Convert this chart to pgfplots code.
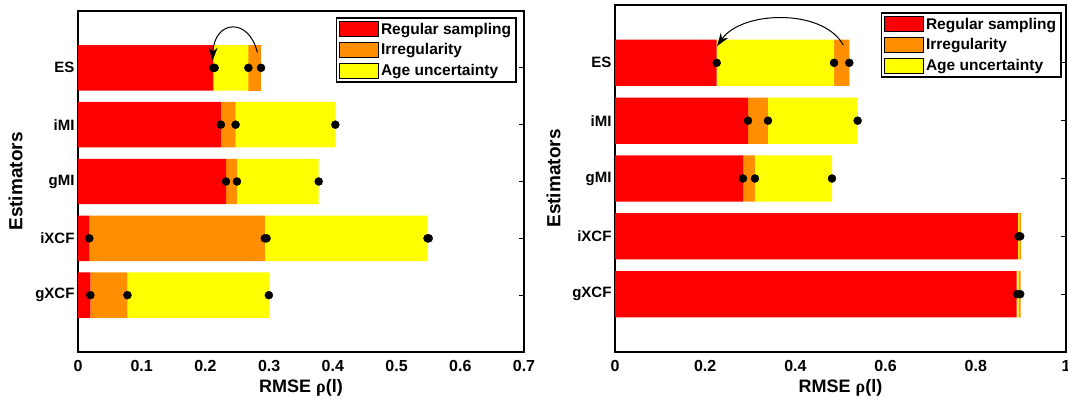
\documentclass[border=0pt]{standalone}
\usepackage{pgfplots}
\pgfplotsset{compat=1.18}
\usepackage{fontspec}
\setmainfont{Liberation Sans}
\usetikzlibrary{arrows.meta}
\definecolor{cRed}{RGB}{255,0,0}
\definecolor{cOrange}{RGB}{255,143,0}
\definecolor{cYellow}{RGB}{255,255,0}

\pgfplotsset{
  legpatch/.style={legend image code/.code={
      \path[draw=black, line width=0.6pt, fill=#1] (0pt,-7.5pt) rectangle (39pt,7.5pt);}},
  panel/.style={
    scale only axis,
    anchor=south west,
    xbar stacked,
    bar width=0.8,
    ymin=0, ymax=6,
    xmin=0,
    ytick={1,2,3,4,5},
    yticklabels={gXCF,iXCF,gMI,iMI,ES},
    y tick label style={font=\fontsize{15}{17}\selectfont\bfseries},
    x tick label style={font=\fontsize{16}{18}\selectfont\bfseries, yshift=-5pt},
    /pgf/number format/assume math mode=true,
    axis line style={line width=1.8pt},
    ytick pos=both,
    tick align=inside,
    major tick length=5pt,
    every tick/.style={black, line width=1pt},
    xtick pos=bottom,
    xtick style={draw=none},
    xlabel={\bfseries RMSE {\fontspec{Liberation Serif}ρ}(l)},
    ylabel={\bfseries Estimators},
    xlabel style={font=\fontsize{18}{20}\selectfont, yshift=-1pt},
    ylabel style={font=\fontsize{19}{21}\selectfont, yshift=6pt},
    legend cell align=left,
    legend style={at={(1,1)}, anchor=north east, draw=black, line width=1.8pt,
      font=\fontsize{15.5}{17}\selectfont\bfseries, inner sep=3pt, row sep=4pt,
      /tikz/every even column/.append style={column sep=4pt}},
  },
  overlay/.style={
    scale only axis, anchor=south west, hide axis,
    ymin=0, ymax=6, xmin=0, clip=false,
  },
}

\begin{document}
\begin{tikzpicture}
% ---------------- Left panel ----------------
\begin{axis}[panel, at={(78pt,47pt)}, width=446pt, height=341pt, xmax=0.7,
  xtick={0,0.1,0.2,0.3,0.4,0.5,0.6,0.7},
  xticklabels={0,0.1,0.2,0.3,0.4,0.5,0.6,0.7},
  legend style={xshift=-7pt, yshift=-6pt}]
\addplot[draw=none, fill=cRed, legpatch=cRed] coordinates {(0.2124,5) (0.2243,4) (0.2323,3) (0.0178,2) (0.0194,1)};
\addplot[draw=none, fill=cOrange, legpatch=cOrange] coordinates {(0,5) (0.0231,4) (0.0172,3) (0.2754,2) (0.0582,1)};
\addplot[draw=none, fill=cYellow, legpatch=cYellow] coordinates {(0.0550,5) (0.1565,4) (0.1283,3) (0.2554,2) (0.2220,1)};
\addplot[draw=none, fill=cOrange] coordinates {(0.0199,5) (0,4) (0,3) (0,2) (0,1)};
\legend{Regular sampling, Irregularity, Age uncertainty}
\end{axis}
\begin{axis}[overlay, at={(78pt,47pt)}, width=446pt, height=341pt, xmax=0.7]
\addplot[only marks, mark=*, mark size=4pt, black] coordinates {
 (0.2124,5) (0.2145,5) (0.2674,5) (0.2873,5)
 (0.2243,4) (0.2474,4) (0.4039,4)
 (0.2323,3) (0.2495,3) (0.3778,3)
 (0.0178,2) (0.2932,2) (0.2960,2) (0.5486,2) (0.5505,2)
 (0.0194,1) (0.0776,1) (0.2996,1)};
\draw[line width=1pt, -{Stealth[length=13pt, width=9pt]}]
  (axis cs:0.2815,5.27) .. controls (axis cs:0.268,5.90) and (axis cs:0.214,5.84) .. (axis cs:0.2112,5.13);
\end{axis}

% ---------------- Right panel ----------------
\begin{axis}[panel, at={(615pt,47pt)}, width=451pt, height=347pt, xmax=1,
  xtick={0,0.2,0.4,0.6,0.8,1},
  xticklabels={0,0.2,0.4,0.6,0.8,1},
  ylabel style={yshift=-1pt},
  legend style={xshift=-4pt, yshift=-7pt}]
\addplot[draw=none, fill=cRed, legpatch=cRed] coordinates {(0.2255,5) (0.2949,4) (0.2838,3) (0.8936,2) (0.8906,1)};
\addplot[draw=none, fill=cOrange, legpatch=cOrange] coordinates {(0,5) (0.0443,4) (0.0266,3) (0,2) (0,1)};
\addplot[draw=none, fill=cYellow, legpatch=cYellow] coordinates {(0.2601,5) (0.1988,4) (0.1708,3) (0.0032,2) (0.0044,1)};
\addplot[draw=none, fill=cOrange] coordinates {(0.0339,5) (0,4) (0,3) (0.0032,2) (0.0046,1)};
\legend{Regular sampling, Irregularity, Age uncertainty}
\end{axis}
\begin{axis}[overlay, at={(615pt,47pt)}, width=451pt, height=347pt, xmax=1]
\addplot[only marks, mark=*, mark size=4pt, black] coordinates {
 (0.2255,5) (0.4856,5) (0.5195,5)
 (0.2949,4) (0.3392,4) (0.5380,4)
 (0.2838,3) (0.3104,3) (0.4812,3)
 (0.8950,2) (0.8985,2)
 (0.8920,1) (0.8985,1)};
\draw[line width=1pt, -{Stealth[length=13pt, width=9pt]}]
  (axis cs:0.506,5.31) .. controls (axis cs:0.46,5.95) and (axis cs:0.28,5.90) .. (axis cs:0.2265,5.29);
\end{axis}

\pgfresetboundingbox
\path[use as bounding box] (0pt,0pt) rectangle (1068pt,399pt);
\end{tikzpicture}
\end{document}
